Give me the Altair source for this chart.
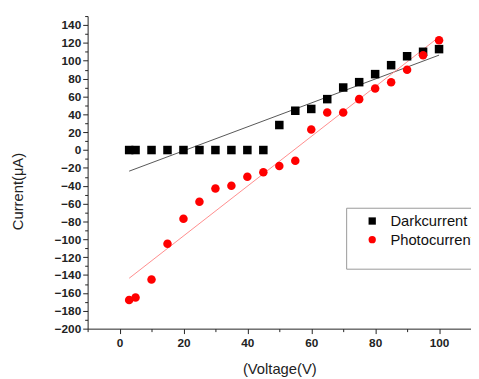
import altair as alt
import pandas as pd

voltage = [3, 5, 10, 15, 20, 25, 30, 35, 40, 45, 50, 55, 60, 65, 70, 75, 80, 85, 90, 95, 100]
dark = [0, 0, 0, 0, 0, 0, 0, 0, 0, 0, 28, 44, 46, 57, 70, 76, 85, 95, 105, 110, 113]
photo = [-168, -165, -145, -105, -77, -58, -43, -40, -30, -25, -18, -12, 23, 42, 42, 57, 69, 76, 90, 106, 123]
series_names = ["Darkcurrent", "Photocurrent"]
x_major = [0, 20, 40, 60, 80, 100]
x_minor = [-10, 10, 30, 50, 70, 90, 110]
y_major = list(range(-200, 141, 20))
y_minor = list(range(-190, 151, 20))

rows = []
for v, d in zip(voltage, dark):
    rows.append({"voltage": v, "current": d, "series": series_names[0]})
for v, p in zip(voltage, photo):
    rows.append({"voltage": v, "current": p, "series": series_names[1]})
df = pd.DataFrame(rows)

FONT = "Liberation Sans"
x_scale = alt.Scale(domain=[-10, 110], nice=False, zero=False)
y_scale = alt.Scale(domain=[-200, 150], nice=False, zero=False)

x_major_axis = alt.Axis(
    values=x_major, orient="bottom", labelOverlap=False, labelFlush=False, grid=False,
    tickSize=5, labelPadding=4, title="(Voltage(V)", titleY=41, titleBaseline="middle",
)
y_major_axis = alt.Axis(
    values=y_major, orient="left", labelOverlap=False, labelFlush=False, grid=False,
    tickSize=5, labelPadding=2, title="Current(μA)", titleX=-71, titleY=178,
    titleAngle=-90, titleAlign="center", titleBaseline="middle",
)
x_minor_axis = alt.Axis(values=x_minor, orient="bottom", labels=False, domain=False,
                        grid=False, tickSize=3, title=None)
y_minor_axis = alt.Axis(values=y_minor, orient="left", labels=False, domain=False,
                        grid=False, tickSize=3, title=None)

points = alt.Chart(df).mark_point(filled=True, opacity=1).encode(
    x=alt.X("voltage:Q", scale=x_scale, axis=x_major_axis),
    y=alt.Y("current:Q", scale=y_scale, axis=y_major_axis),
    color=alt.Color(
        "series:N",
        scale=alt.Scale(domain=series_names, range=["#000000", "#ff0000"]),
        legend=alt.Legend(
            title=" ",
            titleOrient="bottom",
            orient="none",
            legendX=263,
            legendY=195,
            labelExpr="datum.label == 'Photocurrent' ? '\u00a0Photocurrent' : datum.label",
        ),
    ),
    shape=alt.Shape(
        "series:N",
        scale=alt.Scale(domain=series_names, range=["square", "circle"]),
    ),
    size=alt.value(75),
)

minor = alt.Chart(df).mark_point(opacity=0).encode(
    x=alt.X("voltage:Q", scale=x_scale, axis=x_minor_axis),
    y=alt.Y("current:Q", scale=y_scale, axis=y_minor_axis),
)

dark_fit = (
    alt.Chart(df)
    .transform_filter(alt.datum.series == series_names[0])
    .transform_regression("voltage", "current", extent=[3, 100])
    .mark_line(color="#555555", strokeWidth=1)
    .encode(x=alt.X("voltage:Q", axis=None), y=alt.Y("current:Q", axis=None))
)
photo_fit = (
    alt.Chart(df)
    .transform_filter(alt.datum.series == series_names[1])
    .transform_regression("voltage", "current", extent=[3, 100])
    .mark_line(color="#ff8c8c", strokeWidth=1)
    .encode(x=alt.X("voltage:Q", axis=None), y=alt.Y("current:Q", axis=None))
)

chart = (
    alt.layer(minor, dark_fit, photo_fit, points)
    .resolve_axis(x="independent", y="independent")
    .properties(
        width=390,
        height=318,
        autosize=alt.AutoSizeParams(type="none"),
        padding={"left": 81, "top": 5, "right": 0, "bottom": 48},
        background="white",
    )
    .configure_view(stroke=None)
    .configure_axis(
        labelFont=FONT,
        labelFontSize=12,
        labelFontWeight="bold",
        labelColor="#222222",
        titleFont=FONT,
        titleFontSize=15,
        titleFontWeight="normal",
        titleColor="#222222",
        domainColor="#222222",
        tickColor="#222222",
        domainWidth=1,
        tickWidth=1,
    )
    .configure_legend(
        labelFont=FONT,
        labelFontSize=15,
        labelColor="#111111",
        titleFont=FONT,
        titleFontSize=12,
        titlePadding=4,
        strokeColor="#999999",
        fillColor="white",
        padding=6,
        symbolSize=55,
        symbolOffset=13,
        labelOffset=11,
        rowPadding=3,
    )
)

chart.save("out.html", embed_options={"renderer": "svg", "actions": False})
